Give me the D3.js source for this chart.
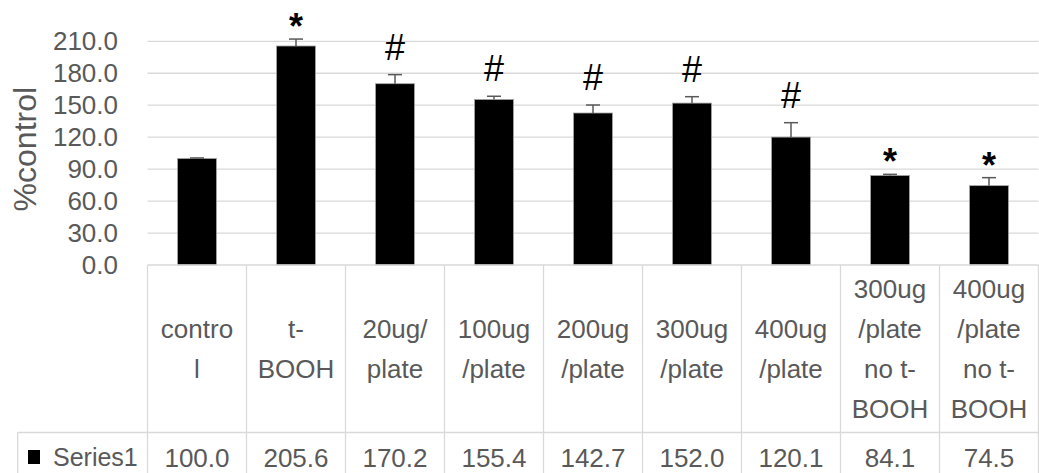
<!DOCTYPE html>
<html lang="en">
<head>
<meta charset="utf-8">
<script src="https://d3js.org/d3.v7.min.js"></script>
<style>
  body { margin: 0; background: #fff; }
  svg text { font-family: "Liberation Sans", Arial, sans-serif; }
</style>
</head>
<body>
<svg id="chart" width="1039" height="473"></svg>
<script>
// data
const categories = ["control", "t-BOOH", "20ug/plate", "100ug/plate", "200ug/plate",
  "300ug/plate", "400ug/plate", "300ug/plate no t-BOOH", "400ug/plate no t-BOOH"];
const labelLines = [["contro", "l"], ["t-", "BOOH"], ["20ug/", "plate"], ["100ug", "/plate"],
  ["200ug", "/plate"], ["300ug", "/plate"], ["400ug", "/plate"],
  ["300ug", "/plate", "no t-", "BOOH"], ["400ug", "/plate", "no t-", "BOOH"]];
const values = [100.0, 205.6, 170.2, 155.4, 142.7, 152.0, 120.1, 84.1, 74.5];
const errors = [0.5, 6.5, 8.5, 3, 7.5, 6, 13.5, 1, 7.5];
const marks = ["", "*", "#", "#", "#", "#", "#", "*", "*"];
const yTicks = [0, 30, 60, 90, 120, 150, 180, 210];
const seriesName = "Series1";

const svg = d3.select("#chart");
const gridColor = "#d9d9d9", textColor = "#595959";

const plotLeft = 147.5, plotRight = 1038.5, plotTop = 41.3, plotBottom = 265;
const tableRow = 432.5, tableBottom = 473, legendLeft = 17.7;

const x = d3.scaleBand().domain(categories).range([plotLeft, plotRight]);
const y = d3.scaleLinear().domain([0, 210]).range([plotBottom, plotTop]);
const barW = x.bandwidth() * 0.394;
const cx = c => x(c) + x.bandwidth() / 2;

// gridlines
svg.append("g").selectAll("line")
  .data(yTicks.filter(d => d > 0))
  .join("line")
    .attr("x1", plotLeft).attr("x2", plotRight)
    .attr("y1", d => y(d)).attr("y2", d => y(d))
    .attr("stroke", gridColor).attr("stroke-width", 1.3);

// y tick labels
svg.append("g").selectAll("text")
  .data(yTicks)
  .join("text")
    .attr("x", 118).attr("y", d => y(d) + 9)
    .attr("text-anchor", "end")
    .attr("font-size", 26)
    .attr("fill", textColor)
    .text(d => d.toFixed(1));

// axis title
svg.append("text")
  .attr("transform", `translate(35.5,${(plotTop + plotBottom) / 2 - 4}) rotate(-90)`)
  .attr("text-anchor", "middle")
  .attr("font-size", 32)
  .attr("fill", textColor)
  .text("%control");

// bars
const data = categories.map((c, i) => ({ c, v: values[i], e: errors[i], m: marks[i], lines: labelLines[i] }));

svg.append("g").selectAll("rect")
  .data(data)
  .join("rect")
    .attr("x", d => cx(d.c) - barW / 2)
    .attr("width", barW)
    .attr("y", d => y(d.v))
    .attr("height", d => y(0) - y(d.v))
    .attr("fill", "#000")
    .attr("stroke", "#a6a6a6").attr("stroke-width", 0.8);

// error bars (plus only)
const err = svg.append("g").attr("stroke", "#595959").attr("stroke-width", 1.5);
err.selectAll(".stem").data(data).join("line")
  .attr("class", "stem")
  .attr("x1", d => cx(d.c)).attr("x2", d => cx(d.c))
  .attr("y1", d => y(d.v)).attr("y2", d => y(d.v + d.e));
err.selectAll(".cap").data(data).join("line")
  .attr("class", "cap")
  .attr("x1", d => cx(d.c) - 7).attr("x2", d => cx(d.c) + 7)
  .attr("y1", d => y(d.v + d.e)).attr("y2", d => y(d.v + d.e));

// significance marks
svg.append("g").selectAll("text")
  .data(data.filter(d => d.m))
  .join("text")
    .attr("x", d => cx(d.c))
    .attr("y", d => y(d.v + d.e) - (d.m === "#" ? 15 : 0))
    .attr("text-anchor", "middle")
    .attr("font-size", 36)
    .attr("font-weight", d => d.m === "*" ? "bold" : "normal")
    .attr("fill", "#000")
    .text(d => d.m);

// data table
const table = svg.append("g").attr("stroke", gridColor).attr("stroke-width", 1.3);
table.append("line").attr("x1", plotLeft).attr("x2", plotRight).attr("y1", plotBottom).attr("y2", plotBottom);
table.append("line").attr("x1", legendLeft).attr("x2", plotRight).attr("y1", tableRow).attr("y2", tableRow);
table.append("line").attr("x1", legendLeft).attr("x2", legendLeft).attr("y1", tableRow).attr("y2", tableBottom);
table.selectAll(".vl")
  .data(categories.concat(["end"]))
  .join("line")
    .attr("class", "vl")
    .attr("x1", (d, i) => i < categories.length ? x(d) : plotRight)
    .attr("x2", (d, i) => i < categories.length ? x(d) : plotRight)
    .attr("y1", plotBottom).attr("y2", tableBottom);

// header labels
const head = svg.append("g").attr("font-size", 26).attr("fill", textColor).attr("text-anchor", "middle");
data.forEach(d => {
  const n = d.lines.length;
  d.lines.forEach((t, j) => {
    head.append("text")
      .attr("x", cx(d.c))
      .attr("y", 358.3 + (j - (n - 1) / 2) * 40)
      .text(t);
  });
});

// value row
svg.append("g").selectAll("text")
  .data(data)
  .join("text")
    .attr("x", d => cx(d.c)).attr("y", 467)
    .attr("text-anchor", "middle")
    .attr("font-size", 26)
    .attr("fill", textColor)
    .text(d => d.v.toFixed(1));

// legend key
svg.append("rect").attr("x", 28).attr("y", 450).attr("width", 12).attr("height", 14).attr("fill", "#000");
svg.append("text").attr("x", 53).attr("y", 466)
  .attr("font-size", 25).attr("fill", textColor)
  .text(seriesName);
</script>
</body>
</html>
